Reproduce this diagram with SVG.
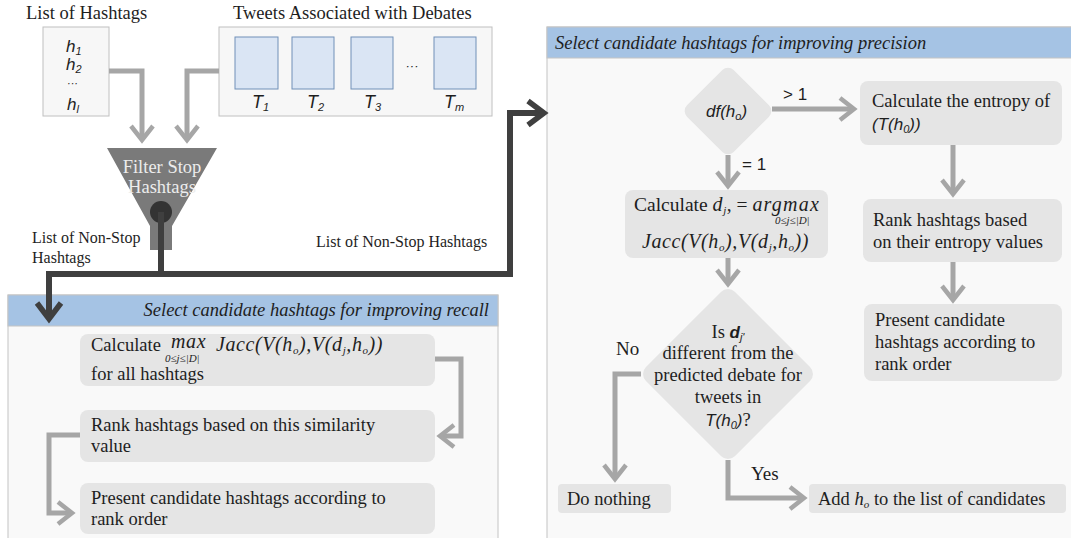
<svg xmlns="http://www.w3.org/2000/svg" width="1071" height="538" viewBox="0 0 1071 538">
<style>
.bg{fill:#ffffff}
.panel{fill:#f9f9f9;stroke:#c4c4c4;stroke-width:1}
.hdr{fill:#a5c3e4;stroke:#c4c4c4;stroke-width:1}
.box{fill:#e5e5e5}
.inbox{fill:#f7f7f7;stroke:#c0c0c0;stroke-width:1}
.tbox{fill:#dae5f4;stroke:#7090b8;stroke-width:1}
.t{font-family:"Liberation Serif","Times New Roman",serif;font-size:18.5px;fill:#1e1e1e}
.ti{font-family:"Liberation Serif","Times New Roman",serif;font-size:18.5px;font-style:italic;fill:#1e1e1e}
.m{font-family:"Liberation Serif","Times New Roman",serif;font-size:20px;font-style:italic;fill:#1e1e1e;letter-spacing:0.6px}
.s{font-family:"Liberation Sans",Arial,sans-serif;font-size:17px;font-style:italic;fill:#1e1e1e}
.lab{font-family:"Liberation Sans",Arial,sans-serif;font-size:17px;fill:#1e1e1e}
.sm{font-family:"Liberation Serif","Times New Roman",serif;font-size:16px;fill:#1e1e1e}
.sub{font-size:11px}
.g{fill:none;stroke:#a6a6a6;stroke-width:5}
.d{fill:none;stroke:#3f3f3f;stroke-width:6}
</style>
<defs>
<marker id="ag" markerUnits="userSpaceOnUse" orient="auto" overflow="visible" markerWidth="30" markerHeight="30" refX="0" refY="0">
<path d="M-14,-11 L0,0 L-14,11" fill="none" stroke="#a6a6a6" stroke-width="4.5"/>
</marker>
<marker id="ad" markerUnits="userSpaceOnUse" orient="auto" overflow="visible" markerWidth="30" markerHeight="30" refX="0" refY="0">
<path d="M-16,-12 L0,0 L-16,12" fill="none" stroke="#3f3f3f" stroke-width="5.5"/>
</marker>
</defs>
<rect class="bg" x="0" y="0" width="1071" height="538"/>

<g id="panel-recall">
<rect class="panel" x="8" y="295" width="490" height="250"/>
<rect class="hdr" x="8" y="295" width="490" height="31"/>
<text class="ti" x="489" y="316" text-anchor="end">Select candidate hashtags for improving recall</text>
</g>
<g id="panel-precision">
<rect class="panel" x="547" y="27" width="530" height="520"/>
<rect class="hdr" x="547" y="27" width="530" height="31"/>
<text class="ti" x="555" y="49">Select candidate hashtags for improving precision</text>
</g>

<g id="hashtags">
<text class="t" x="26" y="19">List of Hashtags</text>
<rect class="inbox" x="43" y="27" width="66" height="89"/>
<text class="s" x="66" y="52">h<tspan class="sub" dy="3">1</tspan></text>
<text class="s" x="66" y="70">h<tspan class="sub" dy="3">2</tspan></text>
<text class="s" x="67" y="87" style="font-size:11px">···</text>
<text class="s" x="67" y="110">h<tspan class="sub" dy="3">l</tspan></text>
</g>

<g id="tweets">
<text class="t" x="233" y="19">Tweets Associated with Debates</text>
<rect class="inbox" x="219" y="27" width="273" height="89"/>
<rect class="tbox" x="235" y="37" width="43" height="52"/>
<rect class="tbox" x="292" y="37" width="42" height="52"/>
<rect class="tbox" x="351" y="37" width="42" height="52"/>
<rect class="tbox" x="434" y="37" width="42" height="52"/>
<text class="s" x="412" y="70" text-anchor="middle" style="font-size:13px">···</text>
<text class="s" x="252" y="108" style="font-size:18px">T<tspan class="sub" dy="3">1</tspan></text>
<text class="s" x="307" y="108" style="font-size:18px">T<tspan class="sub" dy="3">2</tspan></text>
<text class="s" x="364" y="108" style="font-size:18px">T<tspan class="sub" dy="3">3</tspan></text>
<text class="s" x="444" y="108" style="font-size:18px">T<tspan class="sub" dy="3">m</tspan></text>
</g>

<g id="filter">
<path d="M107,148 L217,148 L172,226 L172,250 L150,250 L150,226 Z" fill="#7a7a7a"/>
<text class="t" x="162" y="173" text-anchor="middle" style="fill:#ececec">Filter Stop</text>
<text class="t" x="162" y="193" text-anchor="middle" style="fill:#ececec">Hashtags</text>
<circle cx="161" cy="212" r="11" fill="#333333"/>
</g>

<g id="labels-nonstop">
<text class="sm" x="32" y="243">List of Non-Stop</text>
<text class="sm" x="32" y="263">Hashtags</text>
<text class="sm" x="316" y="247">List of Non-Stop Hashtags</text>
</g>

<g id="recall-calc">
<rect class="box" x="80" y="334" width="355" height="52" rx="8"/>
<text class="t" x="91" y="351">Calculate</text>
<text class="m" x="171" y="348">max</text>
<text class="m" x="165" y="362" style="font-size:11px;letter-spacing:0">0≤j≤|D|</text>
<text class="m" x="216" y="351">Jacc(V(h<tspan class="sub" dy="3">o</tspan><tspan dy="-3">),V(d</tspan><tspan class="sub" dy="3">j</tspan><tspan dy="-3">,h</tspan><tspan class="sub" dy="3">o</tspan><tspan dy="-3">))</tspan></text>
<text class="t" x="91" y="380">for all hashtags</text>
</g>
<g id="recall-rank">
<rect class="box" x="80" y="410" width="355" height="52" rx="8"/>
<text class="t" x="91" y="431">Rank hashtags based on this similarity</text>
<text class="t" x="91" y="452">value</text>
</g>
<g id="recall-present">
<rect class="box" x="80" y="483" width="355" height="51" rx="8"/>
<text class="t" x="91" y="504">Present candidate hashtags according to</text>
<text class="t" x="91" y="525">rank order</text>
</g>

<g id="df-decision">
<rect class="box" x="-33" y="-33" width="66" height="66" rx="8" transform="translate(728,111) rotate(45)"/>
<text class="s" x="706" y="117">df(h<tspan class="sub" dy="3">o</tspan><tspan dy="-3">)</tspan></text>
</g>
<g id="entropy">
<rect class="box" x="860" y="81" width="202" height="64" rx="8"/>
<text class="t" x="872" y="107">Calculate the entropy of</text>
<text class="s" x="872" y="130">(T(h<tspan class="sub" dy="3">0</tspan><tspan dy="-3">))</tspan></text>
</g>
<g id="rank-entropy">
<rect class="box" x="863" y="199" width="199" height="63" rx="8"/>
<text class="t" x="873" y="226">Rank hashtags based</text>
<text class="t" x="873" y="248">on their entropy values</text>
</g>
<g id="present-precision">
<rect class="box" x="864" y="304" width="198" height="77" rx="8"/>
<text class="t" x="875" y="326">Present candidate</text>
<text class="t" x="875" y="348">hashtags according to</text>
<text class="t" x="875" y="370">rank order</text>
</g>
<g id="calc-dj">
<rect class="box" x="625" y="190" width="203" height="68" rx="8"/>
<text class="t" x="634" y="211" style="font-size:19.5px">Calculate <tspan class="m">d</tspan><tspan class="m sub" dy="3">j</tspan><tspan dy="-3">, = </tspan><tspan class="m" style="letter-spacing:1.2px">argmax</tspan></text>
<text class="m" x="775" y="224" style="font-size:11px;letter-spacing:0">0≤j≤|D|</text>
<text class="m" x="642" y="248">Jacc(V(h<tspan class="sub" dy="3">o</tspan><tspan dy="-3">),V(d</tspan><tspan class="sub" dy="3">j</tspan><tspan dy="-3">,h</tspan><tspan class="sub" dy="3">o</tspan><tspan dy="-3">))</tspan></text>
</g>
<g id="dj-decision">
<rect class="box" x="-63" y="-63" width="126" height="126" rx="10" transform="translate(728,374) rotate(45)"/>
<text class="t" x="728" y="338" text-anchor="middle">Is <tspan class="s" style="font-weight:bold">d</tspan><tspan class="s sub" dy="3">j'</tspan></text>
<text class="t" x="728" y="359" text-anchor="middle">different from the</text>
<text class="t" x="728" y="381" text-anchor="middle">predicted debate for</text>
<text class="t" x="728" y="403" text-anchor="middle">tweets in</text>
<text class="s" x="728" y="426" text-anchor="middle">T(h<tspan class="sub" dy="3">0</tspan><tspan dy="-3">)</tspan><tspan class="t" style="font-style:normal">?</tspan></text>
</g>
<g id="do-nothing">
<rect class="box" x="558" y="484" width="113" height="29" rx="4"/>
<text class="t" x="567" y="505">Do nothing</text>
</g>
<g id="add-candidate">
<rect class="box" x="809" y="484" width="257" height="29" rx="4"/>
<text class="t" x="818" y="505">Add <tspan class="ti">h</tspan><tspan class="ti sub" dy="3">o</tspan><tspan dy="-3"> to the list of candidates</tspan></text>
</g>

<g id="connectors">
<path class="g" d="M109,71 H142 V140" marker-end="url(#ag)"/>
<path class="g" d="M219,71 H187 V140" marker-end="url(#ag)"/>
<path class="g" d="M435,359 H461 V436 H440" marker-end="url(#ag)"/>
<path class="g" d="M80,435 H49 V513 H72" marker-end="url(#ag)"/>
<path class="g" d="M772,109 H854" marker-end="url(#ag)"/>
<path class="g" d="M728,155 V186" marker-end="url(#ag)"/>
<path class="g" d="M953,145 V194" marker-end="url(#ag)"/>
<path class="g" d="M953,262 V300" marker-end="url(#ag)"/>
<path class="g" d="M728,258 V284" marker-end="url(#ag)"/>
<path class="g" d="M641,374 H615 V479" marker-end="url(#ag)"/>
<path class="g" d="M728,460 V498 H804" marker-end="url(#ag)"/>
<path class="d" d="M161,212 V274 H49 V319" marker-end="url(#ad)"/>
<path class="d" d="M161,274 H510 V113 H544" marker-end="url(#ad)"/>
<text class="lab" x="783" y="100">&gt; 1</text>
<text class="lab" x="742" y="170">= 1</text>
<text class="t" x="616" y="355" style="font-size:19px">No</text>
<text class="t" x="751" y="480" style="font-size:19px">Yes</text>
</g>
</svg>
